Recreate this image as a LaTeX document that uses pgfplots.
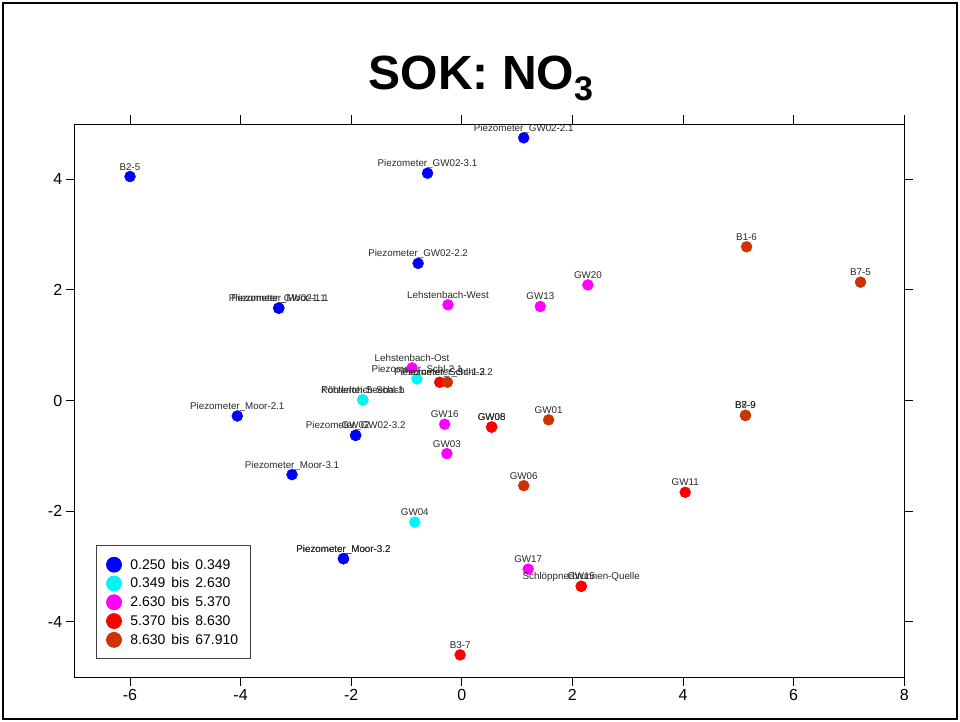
\documentclass[border=0pt]{standalone}
\usepackage{fontspec}
\setmainfont{Liberation Sans}
\usepackage{pgfplots}
\pgfplotsset{compat=1.18}
\definecolor{cBlue}{RGB}{0,0,255}
\definecolor{cCyan}{RGB}{0,245,245}
\definecolor{cMag}{RGB}{255,0,255}
\definecolor{cRed}{RGB}{255,0,0}
\definecolor{cBrown}{RGB}{204,51,0}
\definecolor{lblgray}{RGB}{40,40,40}
\pgfplotsset{
  pts/.style={only marks, mark=*, mark size=5.5pt, color=#1,
    mark options={draw=#1, fill=#1}, forget plot,
    nodes near coords, point meta=explicit symbolic,
    nodes near coords align={anchor=base},
    every node near coord/.append style={yshift=6.5pt, inner sep=0pt,
      font=\fontsize{9.8}{11}\selectfont, text=lblgray}},
}
\begin{document}
\begin{tikzpicture}[x=1pt,y=1pt]
\useasboundingbox (0,0) rectangle (960,722);
\draw[line width=2.5pt] (3,3) rectangle (957,719);
\node[anchor=base, font=\fontsize{48}{56}\selectfont\bfseries] at (481,632)
  {SOK: NO\raisebox{-11pt}{\fontsize{34}{40}\selectfont 3}};
\begin{axis}[
  at={(74.7pt,45pt)}, anchor=south west,
  scale only axis, width=829.5pt, height=553pt,
  xmin=-7, xmax=8, ymin=-5, ymax=5,
  xtick={-6,-4,-2,0,2,4,6,8}, xticklabels={-6,-4,-2,0,2,4,6,8},
  ytick={-4,-2,0,2,4}, yticklabels={-4,-2,0,2,4},
  tick align=outside, major tick length=9pt,
  xtick pos=both, ytick pos=both, ticklabel pos=left,
  tick style={black, line width=0.8pt},
  axis line style={line width=0.9pt},
  ticklabel style={font=\fontsize{16}{19}\selectfont},
  clip=false,
  legend style={at={(axis cs:-6.62,-2.62)}, anchor=north west,
    draw=black!75, line width=0.8pt, inner xsep=10pt, inner ysep=11pt,
    row sep=3pt, font=\fontsize{14}{16}\selectfont, nodes={inner sep=2pt}},
  legend cell align=left,
  legend image code/.code={\path (0pt,-7.5pt) (21pt,7.5pt); \fill[#1] (7pt,0pt) circle (7.5pt);},
]
% 0.250 bis 0.349
\addplot[pts=cBlue] table[meta=label] {
x y label
-6.00 4.05 B2-5
1.12 4.75 Piezometer\_GW02-2.1
-0.62 4.11 Piezometer\_GW02-3.1
-0.79 2.48 Piezometer\_GW02-2.2
-3.31 1.67 Piezometer\_GW02-1.1
-3.31 1.67 Piezometer\_Moor-1.1
-4.06 -0.28 Piezometer\_Moor-2.1
-1.92 -0.63 Piezometer\_GW02-3.2
-1.92 -0.63 GW02
-3.07 -1.34 Piezometer\_Moor-3.1
-2.14 -2.86 Piezometer\_Moor-3.2
-2.14 -2.86 Piezometer\_Moor-3.2
};
% 0.349 bis 2.630
\addplot[pts=cCyan] table[meta=label] {
x y label
-0.81 0.39 Piezometer\_Schl-2.1
-1.79 0.01 Köhlerloh-Seebach
-1.79 0.01 Pötzlerteich-Schl-1
-0.85 -2.20 GW04
};
% 2.630 bis 5.370
\addplot[pts=cMag] table[meta=label] {
x y label
-0.90 0.59 Lehstenbach-Ost
-0.25 1.73 Lehstenbach-West
1.42 1.70 GW13
2.28 2.09 GW20
-0.31 -0.43 GW16
-0.27 -0.96 GW03
1.20 -3.05 GW17
};
% 5.370 bis 8.630
\addplot[pts=cRed] table[meta=label] {
x y label
-0.40 0.33 Piezometer\_Schl-1.2
0.54 -0.48 GW08
0.54 -0.48 GW05
4.04 -1.66 GW11
2.16 -3.36 Schlöppnerbrunnen-Quelle
2.16 -3.36 GW15
-0.03 -4.60 B3-7
};
% 8.630 bis 67.910
\addplot[pts=cBrown] table[meta=label] {
x y label
-0.26 0.33 Piezometer\_Schl-3.2
1.57 -0.35 GW01
5.15 2.78 B1-6
7.21 2.14 B7-5
5.13 -0.27 B7-9
5.13 -0.27 B8-9
1.12 -1.54 GW06
};
\addlegendimage{cBlue}
\addlegendentry{0.250\hspace{6pt}bis\hspace{6pt}0.349}
\addlegendimage{cCyan}
\addlegendentry{0.349\hspace{6pt}bis\hspace{6pt}2.630}
\addlegendimage{cMag}
\addlegendentry{2.630\hspace{6pt}bis\hspace{6pt}5.370}
\addlegendimage{cRed}
\addlegendentry{5.370\hspace{6pt}bis\hspace{6pt}8.630}
\addlegendimage{cBrown}
\addlegendentry{8.630\hspace{6pt}bis\hspace{6pt}67.910}
\end{axis}
\end{tikzpicture}
\end{document}
